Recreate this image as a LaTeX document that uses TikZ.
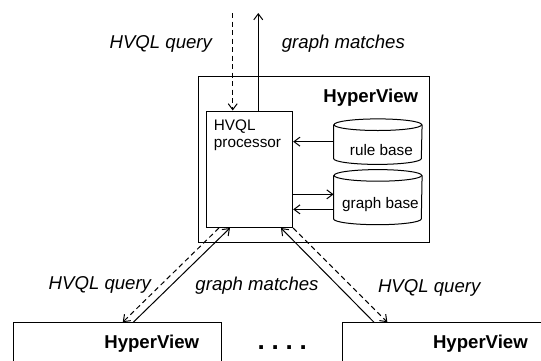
\documentclass[tikz,border=0pt]{standalone}
\usepackage{fontspec}
\setmainfont{Liberation Sans}
\usetikzlibrary{arrows.meta}

\tikzset{
  >={Straight Barb[length=3pt,width=4.5pt]},
  box/.style={draw, line width=0.5pt, inner sep=0pt},
  base/.style={minimum width=43.85pt, inner sep=0pt},
  title/.style={font=\fontsize{9.3}{11}\selectfont\bfseries, inner sep=0pt, anchor=base east},
  lbl/.style={font=\fontsize{7.65}{8.65}\selectfont, inner sep=0pt},
  msg/.style={font=\fontsize{9.3}{11}\selectfont\itshape, inner sep=0pt, anchor=base},
  flow/.style={->, line width=0.5pt},
  query/.style={->, line width=0.5pt, dash pattern=on 2.5pt off 1.75pt},
}

% Zylinder um einen benannten Knoten zeichnen
\newcommand{\drawdb}[1]{%
  \draw[line width=0.5pt] ([yshift=-2.9pt]#1.north) ellipse [x radius=21.925pt, y radius=2.9pt];
  \draw[line width=0.5pt] ([yshift=-2.9pt]#1.north west) -- ([yshift=2.9pt]#1.south west)
    arc[start angle=180, end angle=360, x radius=21.925pt, y radius=2.9pt]
    -- ([yshift=-2.9pt]#1.north east);
}

\begin{document}
\begin{tikzpicture}[x=0.5pt, y=-0.5pt]
  \clip (0,0) rectangle (541,360);

  % der zentrale HyperView-Knoten
  \node[box, minimum width=115.5pt, minimum height=83pt] (main) at (313.8,159.7) {};
  \node[title] (mtitle) at ([xshift=-5.65pt, yshift=-13.3pt]main.north east) {HyperView};

  % HVQL-Prozessor
  \node[box, minimum width=43.35pt, minimum height=58.25pt] (proc) at (249.35,169.25) {};
  \node[lbl, anchor=north west, align=left] (ptext) at ([xshift=4pt, yshift=-4.5pt]proc.north west) {HVQL\\processor};

  % Regel- und Graphbasis
  \node[base, minimum height=22.35pt] (rule) at (377.85,141.65) {};
  \drawdb{rule}
  \node[lbl, anchor=base] (rtext) at (381.4,155) {rule base};
  \node[base, minimum height=27.15pt] (graph) at (377.85,197.15) {};
  \drawdb{graph}
  \node[lbl, anchor=base] (gtext) at (380.5,208.3) {graph base};

  \coordinate (gin) at ([yshift=1.4pt]graph.west);
  \coordinate (gout) at ([yshift=-6.1pt]graph.west);
  \draw[flow] (rule.west) -- (proc.east |- rule.west);
  \draw[flow] (proc.east |- gin) -- (gin);
  \draw[flow] (gout) -- (proc.east |- gout);

  % Anfrage von oben, Antwort nach oben
  \coordinate (qtop) at (232.7,13);
  \coordinate (mtop) at (258.3,13);
  \draw[query] (qtop) -- (qtop |- proc.north);
  \draw[flow] (mtop |- proc.north) -- (mtop);
  \node[msg] (q0) at (160.8,48) {HVQL query};
  \node[msg] (m0) at (343.4,48) {graph matches};

  % untere HyperView-Knoten
  \node[box, minimum width=103.85pt, minimum height=40pt] (left) at (117.15,362.7) {};
  \node[title] (ltitle) at ([xshift=-11pt, yshift=-13.3pt]left.north east) {HyperView};
  \node[box, minimum width=103.85pt, minimum height=40pt] (right) at (446.15,362.7) {};
  \node[title] (rtitle) at ([xshift=-11.15pt, yshift=-13.3pt]right.north east) {HyperView};
  \node[font=\fontsize{13}{15}\selectfont\bfseries, inner sep=0pt, anchor=base] (dots) at (282.3,349.3) {.\hspace{0.26em}.\hspace{0.26em}.\hspace{0.26em}.};

  % Verbindungen nach unten
  \draw[query] ([xshift=-15.2pt]proc.south) -- ([xshift=2.8pt]left.north);
  \draw[flow] ([xshift=8.1pt]left.north) -- ([xshift=-9.7pt]proc.south);
  \draw[flow] ([xshift=-36.1pt]right.north) -- ([xshift=15.8pt]proc.south);
  \draw[query] (proc.south east) -- ([xshift=-29.4pt]right.north);
  \node[msg] (q1) at (99.9,289.3) {HVQL query};
  \node[msg] (m1) at (257,290) {graph matches};
  \node[msg] (q2) at (429.2,292.7) {HVQL query};
\end{tikzpicture}
\end{document}
